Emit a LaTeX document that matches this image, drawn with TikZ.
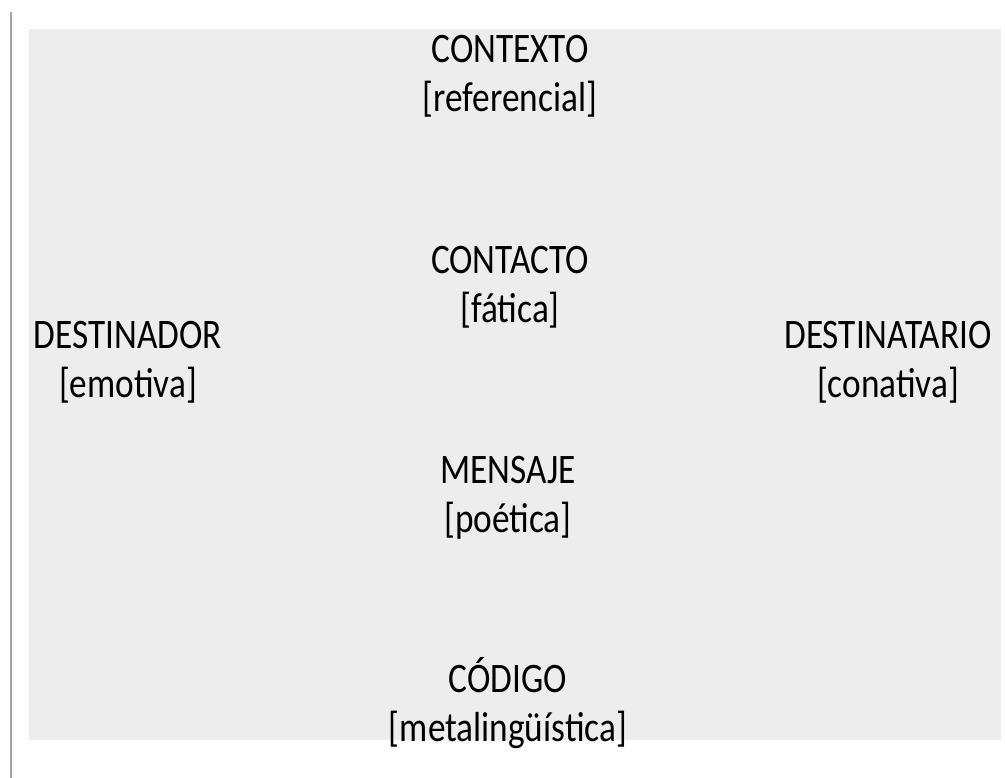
\documentclass[tikz,border=0pt]{standalone}
\usepackage{fontspec}
\setmainfont{Carlito}[FakeStretch=0.84]
\usepackage{tikz}

\begin{document}
\begin{tikzpicture}[x=1pt,y=-1pt,every node/.style={align=center,inner sep=0pt,font=\fontsize{42}{49}\selectfont}]
        \useasboundingbox (0,0) rectangle (1005,778);
        \fill[gray!14] (29,29) rectangle (1001,740);
        \draw[gray!70,line width=2pt] (11,12) -- (11,778);

        \node (contexto) at (510,76) {CONTEXTO\\{}[referencial]};
        \node (contacto) at (510,287) {CONTACTO\\{}[fática]};
        \node (destinador) at (128,362) {DESTINADOR\\{}[emotiva]};
        \node (destinatario) at (888,362) {DESTINATARIO\\{}[conativa]};
        \node (mensaje) at (508,498) {MENSAJE\\{}[poética]};
        \node (codigo) at (508,703) {CÓDIGO\\{}[metalingüística]};
      \end{tikzpicture}
\end{document}
